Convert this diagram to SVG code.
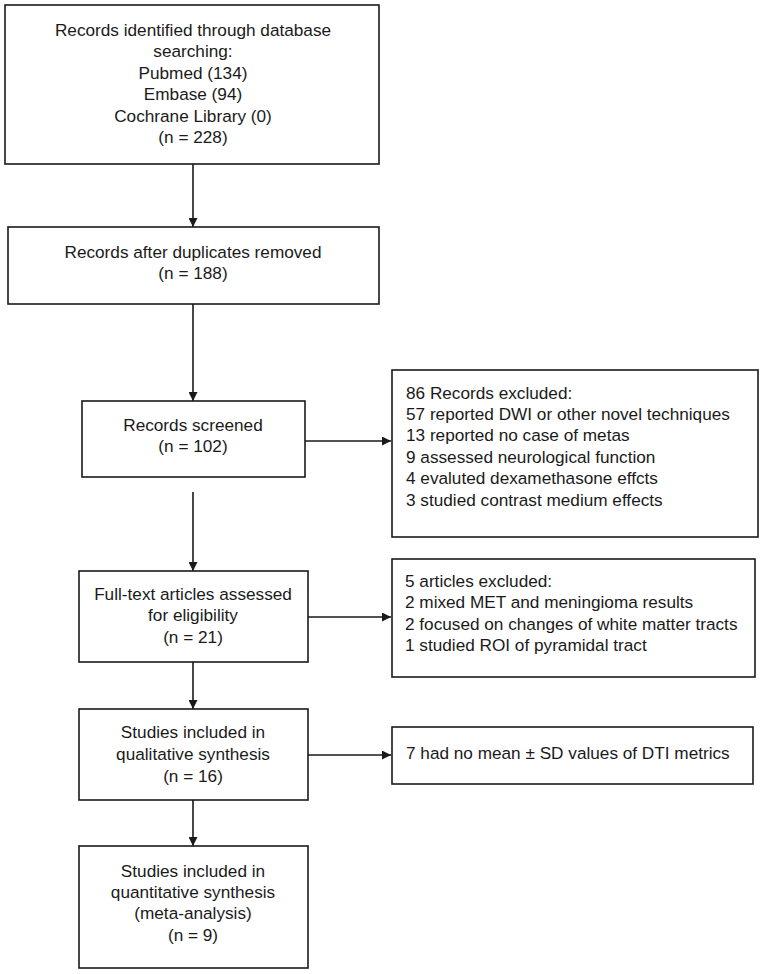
<svg xmlns="http://www.w3.org/2000/svg" width="763" height="974" viewBox="0 0 763 974">
<style>
.box{fill:#fff;stroke:#1a1a1a;stroke-width:1.6}
.t{font-family:"Liberation Sans",Arial,sans-serif;font-size:17.2px;fill:#1a1a1a}
.c{text-anchor:middle}
.ln{stroke:#1a1a1a;stroke-width:1.6;fill:none}
</style>
<defs>
<marker id="ah" viewBox="0 0 10 10" refX="10" refY="5" markerWidth="9" markerHeight="9" markerUnits="userSpaceOnUse" orient="auto">
<path d="M0,0 L10,5 L0,10 Z" fill="#1a1a1a"/>
</marker>
</defs>
<rect width="763" height="974" fill="#fff"/>
<g id="connectors">
<line class="ln" x1="193" y1="164" x2="193" y2="227" marker-end="url(#ah)"/>
<line class="ln" x1="193" y1="304" x2="193" y2="401" marker-end="url(#ah)"/>
<line class="ln" x1="305" y1="441" x2="391" y2="441" marker-end="url(#ah)"/>
<line class="ln" x1="193" y1="492" x2="193" y2="571" marker-end="url(#ah)"/>
<line class="ln" x1="308" y1="617" x2="391" y2="617" marker-end="url(#ah)"/>
<line class="ln" x1="193" y1="662" x2="193" y2="709" marker-end="url(#ah)"/>
<line class="ln" x1="308" y1="755" x2="391" y2="755" marker-end="url(#ah)"/>
<line class="ln" x1="193" y1="800" x2="193" y2="846" marker-end="url(#ah)"/>
</g>
<g id="identified">
<rect class="box" x="5" y="5" width="374" height="159"/>
<text class="t c" x="193" y="36">Records identified through database</text>
<text class="t c" x="193" y="57">searching:</text>
<text class="t c" x="193" y="79">Pubmed (134)</text>
<text class="t c" x="193" y="100">Embase (94)</text>
<text class="t c" x="193" y="122">Cochrane Library (0)</text>
<text class="t c" x="193" y="143">(n = 228)</text>
</g>
<g id="duplicates">
<rect class="box" x="8" y="227" width="371" height="77"/>
<text class="t c" x="193" y="258">Records after duplicates removed</text>
<text class="t c" x="193" y="279">(n = 188)</text>
</g>
<g id="screened">
<rect class="box" x="82" y="401" width="223" height="76"/>
<text class="t c" x="193" y="431">Records screened</text>
<text class="t c" x="193" y="452">(n = 102)</text>
</g>
<g id="excluded1">
<rect class="box" x="392" y="370" width="366" height="167"/>
<text class="t" x="406" y="399">86 Records excluded:</text>
<text class="t" x="406" y="420">57 reported DWI or other novel techniques</text>
<text class="t" x="406" y="441">13 reported no case of metas</text>
<text class="t" x="406" y="463">9 assessed neurological function</text>
<text class="t" x="406" y="484">4 evaluted dexamethasone effcts</text>
<text class="t" x="406" y="506">3 studied contrast medium effects</text>
</g>
<g id="fulltext">
<rect class="box" x="79" y="571" width="229" height="91"/>
<text class="t c" x="193" y="600">Full-text articles assessed</text>
<text class="t c" x="193" y="621">for eligibility</text>
<text class="t c" x="193" y="643">(n = 21)</text>
</g>
<g id="excluded2">
<rect class="box" x="392" y="559" width="363" height="118"/>
<text class="t" x="405" y="587">5 articles excluded:</text>
<text class="t" x="405" y="608">2 mixed MET and meningioma results</text>
<text class="t" x="405" y="630">2 focused on changes of white matter tracts</text>
<text class="t" x="405" y="651">1 studied ROI of pyramidal tract</text>
</g>
<g id="qualitative">
<rect class="box" x="79" y="709" width="229" height="91"/>
<text class="t c" x="193" y="738">Studies included in</text>
<text class="t c" x="193" y="760">qualitative synthesis</text>
<text class="t c" x="193" y="782">(n = 16)</text>
</g>
<g id="excluded3">
<rect class="box" x="392" y="727" width="361" height="57"/>
<text class="t" x="406" y="759">7 had no mean ± SD values of DTI metrics</text>
</g>
<g id="quantitative">
<rect class="box" x="79" y="846" width="229" height="122"/>
<text class="t c" x="193" y="877">Studies included in</text>
<text class="t c" x="193" y="898">quantitative synthesis</text>
<text class="t c" x="193" y="919">(meta-analysis)</text>
<text class="t c" x="193" y="941">(n = 9)</text>
</g>
</svg>
